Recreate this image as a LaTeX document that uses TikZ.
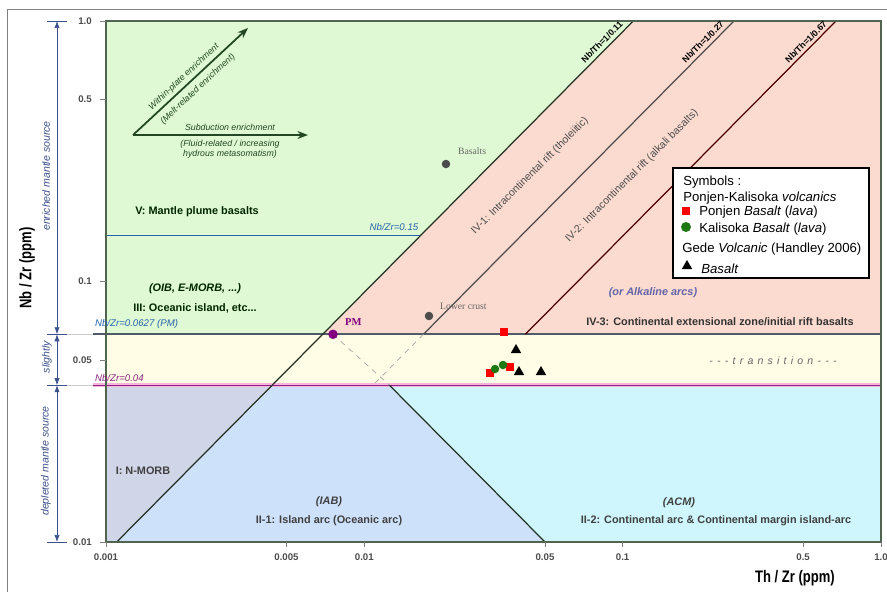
\documentclass[tikz,border=0pt]{standalone}
\usepackage{fontspec}
\setmainfont{Liberation Sans}
\newfontfamily\notefont{Liberation Serif}
\newfontfamily\spacedfont[LetterSpace=40]{Liberation Sans}
\usepackage{tikz}
\usetikzlibrary{arrows.meta,shapes.geometric}

\definecolor{plumegreen}{RGB}{222,249,212}
\definecolor{riftpink}{RGB}{251,219,207}
\definecolor{transyellow}{RGB}{255,253,229}
\definecolor{morbgray}{RGB}{209,213,232}
\definecolor{iabblue}{RGB}{206,225,250}
\definecolor{acmcyan}{RGB}{206,246,252}
\definecolor{pmline}{RGB}{80,90,105}
\definecolor{ratioblue}{RGB}{40,100,170}
\definecolor{ratiopurple}{RGB}{140,40,130}
\definecolor{linedark}{RGB}{35,50,35}
\definecolor{arrowgreen}{RGB}{35,70,35}
\definecolor{axisblue}{RGB}{60,80,140}
\definecolor{framegreen}{RGB}{80,100,80}
\definecolor{kgreen}{RGB}{30,120,20}
\definecolor{arcblue}{RGB}{100,100,170}

\tikzset{
  zonetext/.style={font=\fontsize{6.2}{7}\selectfont\bfseries, text=black!85!green, inner sep=1pt},
  ratiotext/.style={font=\fontsize{5.5}{6}\selectfont\itshape, inner sep=1pt},
  trendtext/.style={font=\fontsize{5}{5.5}\selectfont\itshape, text=arrowgreen, inner sep=1pt},
  sourcetext/.style={font=\fontsize{6}{7}\selectfont\itshape, text=axisblue, rotate=90, inner sep=0pt},
  ticktext/.style={font=\fontsize{5.5}{6}\selectfont\bfseries, text=black!70},
  legendtext/.style={font=\fontsize{7.5}{9}\selectfont, anchor=west, inner sep=0pt},
  ponjen/.style={rectangle, fill=red, minimum size=0.16cm, inner sep=0pt},
  kalisoka/.style={circle, fill=kgreen, minimum size=0.17cm, inner sep=0pt},
  gede/.style={regular polygon, regular polygon sides=3, fill=black, minimum size=0.24cm, inner sep=0pt},
  refpoint/.style={circle, fill=#1, minimum size=0.17cm, inner sep=0pt},
}

\begin{document}
\begin{tikzpicture}[x=0.02cm,y=-0.02cm]
\useasboundingbox (0,0) rectangle (887,592);
\draw[gray] (7,592) -- (7,9) -- (887,9);

% fields
\fill[plumegreen] (106,21) -- (633.3,21) -- (322.6,334.3) -- (106,334.3) -- cycle;
\fill[riftpink] (633.3,21) -- (881,21) -- (881,334.3) -- (322.6,334.3) -- cycle;
\fill[transyellow] (106,334.3) rectangle (881,385.2);
\fill[morbgray] (106,385.2) -- (272.2,385.2) -- (116.7,542) -- (106,542) -- cycle;
\fill[iabblue] (272.2,385.2) -- (389.4,385.2) -- (545,542) -- (116.7,542) -- cycle;
\fill[acmcyan] (389.4,385.2) -- (881,385.2) -- (881,542) -- (545,542) -- cycle;

% Nb/Zr lines
\draw[ratioblue, line width=0.7pt] (106,235.6) -- (420.5,235.6);
\draw[gray!40] (47,334.3) -- (93,334.3);
\draw[gray!40] (47,385.2) -- (93,385.2);
\draw[pmline, line width=1.3pt] (93,334.3) -- (881,334.3);
\draw[magenta!30, line width=2.4pt] (93,385.2) -- (881,385.2);
\draw[ratiopurple, line width=0.7pt] (93,385.2) -- (881,385.2);

% Nb/Th lines
\draw[linedark, line width=0.7pt] (116.7,542) -- (633.3,21);
\draw[gray!60!black, line width=0.7pt] (423.4,334.3) -- (734,21);
\draw[black!70!red, line width=0.7pt] (525.3,334.3) -- (836,21);
\draw[gray!70, dashed] (333,334.3) -- (389.4,385.2);
\draw[gray!70, dashed] (423.4,334.3) -- (373,385.2);
\draw[linedark, line width=0.7pt] (389.4,385.2) -- (545,542);

\draw[framegreen, line width=0.8pt] (106,21) rectangle (881,542);

% axes
\foreach \yv/\lab in {21/1.0, 99.4/0.5, 281.5/0.1, 359.9/0.05, 542/0.01} {
  \draw[gray] (100,\yv) -- (106,\yv);
  \node[ticktext, anchor=east] at (98,\yv) {\lab};
}
\foreach \xv/\lab in {106/0.001, 286.5/0.005, 364.3/0.01, 545/0.05, 622.6/0.1, 803.1/0.5, 881/1.0} {
  \draw[gray] (\xv,542) -- (\xv,547);
  \node[ticktext, anchor=north] at (\xv,548) {\lab};
}
\node (xtitle) at (795,578) {\scalebox{0.78}[1]{\fontsize{9.5}{10}\selectfont\bfseries Th / Zr (ppm)}};
\node[rotate=90] (ytitle) at (27,268) {\scalebox{0.78}[1]{\fontsize{9.5}{10}\selectfont\bfseries Nb / Zr (ppm)}};

% source arrows
\draw[axisblue, {Latex[length=4pt,width=3pt]}-{Latex[length=4pt,width=3pt]}] (57,21) -- (57,334.3);
\draw[axisblue, {Latex[length=4pt,width=3pt]}-{Latex[length=4pt,width=3pt]}] (57,334.3) -- (57,385.2);
\draw[axisblue, {Latex[length=4pt,width=3pt]}-{Latex[length=4pt,width=3pt]}] (57,385.2) -- (57,542);
\foreach \yv in {21,334.3,385.2,542}
  \draw[axisblue] (47,\yv) -- (67,\yv);
\node[sourcetext] (enriched) at (46,176) {enriched mantle source};
\node[sourcetext] (slightly) at (47,357) {slightly};
\node[sourcetext] (depleted) at (46,461) {depleted mantle source};

% trend arrows
\coordinate (trend) at (133,135);
\coordinate (wpe) at (248,28);
\coordinate (sze) at (308,135);
\draw[arrowgreen, line width=1pt, -{Stealth[length=6pt]}] (trend) -- (wpe);
\draw[arrowgreen, line width=1pt, -{Stealth[length=6pt]}] (trend) -- (sze);
\node[trendtext, rotate=43] at (184,77) {Within-plate enrichment};
\node[trendtext, rotate=43] at (198,89) {(Melt-related enrichment)};
\node[trendtext] at (230,127) {Subduction enrichment};
\node[trendtext, align=center] at (230,149) {(Fluid-related / increasing\\hydrous metasomatism)};

% ratio labels
\node[ratiotext, text=ratioblue] (nb15) at (394,227) {Nb/Zr=0.15};
\node[ratiotext, text=ratioblue, anchor=west] (nbpm) at (93,324) {Nb/Zr=0.0627 (PM)};
\node[ratiotext, text=ratiopurple, anchor=west] (nb04) at (93,378) {Nb/Zr=0.04};
\node[ratiotext, font=\fontsize{5}{6}\selectfont\bfseries, rotate=45] (th1) at (602,42) {Nb/Th=1/0.11};
\node[ratiotext, font=\fontsize{5}{6}\selectfont\bfseries, rotate=45] (th2) at (703,42) {Nb/Th=1/0.27};
\node[ratiotext, font=\fontsize{5}{6}\selectfont\bfseries, rotate=45] (th3) at (806,42) {Nb/Th=1/0.67};

% field labels
\node[zonetext] (plume) at (197,212) {V: Mantle plume basalts};
\node[zonetext, font=\fontsize{6.2}{7}\selectfont\bfseries\itshape] (oib) at (195,289) {(OIB, E-MORB, ...)};
\node[zonetext] (ocean) at (195,308) {III: Oceanic island, etc...};
\node[zonetext, text=black!75] (nmorb) at (143,471) {I: N-MORB};
\node[zonetext, text=black!75, font=\fontsize{6.2}{7}\selectfont\bfseries\itshape] (iab) at (329,502) {(IAB)};
\node[zonetext, text=black!75] (islandarc) at (329,521) {II-1: Island arc (Oceanic arc)};
\node[zonetext, text=black!75, font=\fontsize{6.2}{7}\selectfont\bfseries\itshape] (acm) at (679,503) {(ACM)};
\node[zonetext, text=black!75] (contarc) at (716,521) {II-2: Continental arc \& Continental margin island-arc};
\node[zonetext, text=black!70, font=\fontsize{6}{7}\selectfont, rotate=45] (rift1) at (530,176) {IV-1: Intracontinental rift (tholeiitic)};
\node[zonetext, text=black!70, font=\fontsize{6}{7}\selectfont, rotate=45] (rift2) at (632,176) {IV-2: Intracontinental rift (alkali basalts)};
\node[zonetext, text=arcblue, font=\fontsize{6.2}{7}\selectfont\bfseries\itshape] (alkarc) at (653,293) {(or Alkaline arcs)};
\node[zonetext, text=black!80] (rift3) at (720,322) {IV-3: Continental extensional zone/initial rift basalts};
\node[zonetext, text=black!60, font=\spacedfont\fontsize{6}{7}\selectfont\itshape] (trans) at (773,361) {-{}-{}-transition-{}-{}-};

% reference points
\node[refpoint=black!70] (basalts) at (446,164) {};
\node[anchor=west, text=black!60, font=\notefont\fontsize{5.5}{6}\selectfont] at (452,151) {Basalts};
\node[refpoint=black!70] (lowercrust) at (429,316) {};
\node[anchor=west, text=black!60, font=\notefont\fontsize{5.5}{6}\selectfont] at (434,306) {Lower crust};
\node[refpoint=violet, minimum size=0.19cm] (pm) at (333,334.3) {};
\node[anchor=west, text=violet, font=\notefont\bfseries\fontsize{6}{7}\selectfont] at (339,322) {PM};

% samples
\node[ponjen] (p1) at (504,332) {};
\node[ponjen] (p2) at (490,373) {};
\node[ponjen] (p3) at (510,367) {};
\node[kalisoka] (k1) at (495,369) {};
\node[kalisoka] (k2) at (503,365) {};
\node[gede] (g1) at (516,350) {};
\node[gede] (g2) at (519,372) {};
\node[gede] (g3) at (541,372) {};

% legend
\draw[black, fill=white, line width=0.6pt] (673,168) rectangle (869,278);
\node[legendtext] at (683,182) {Symbols :};
\node[legendtext] at (683,198) {Ponjen-Kalisoka \textit{volcanics}};
\node[ponjen] (lp) at (686,211) {};
\node[legendtext] at (699,212) {Ponjen \textit{Basalt} (\textit{lava})};
\node[kalisoka, minimum size=0.2cm] (lk) at (686,227) {};
\node[legendtext] at (699,229) {Kalisoka \textit{Basalt} (\textit{lava})};
\node[legendtext] at (682,249) {Gede \textit{Volcanic} (Handley 2006)};
\node[gede] (lg) at (687,266) {};
\node[legendtext] at (701,269) {\textit{Basalt}};
\end{tikzpicture}
\end{document}
